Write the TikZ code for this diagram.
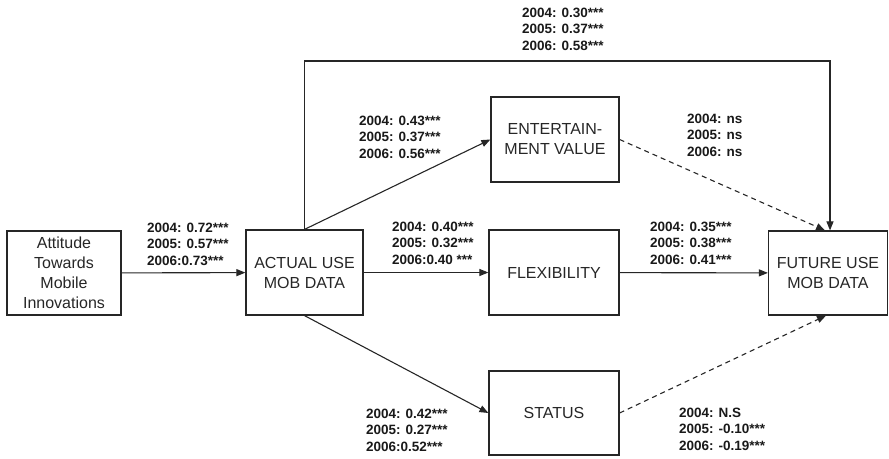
\documentclass[tikz,border=0pt]{standalone}
\usepackage{fontspec}
\setmainfont{Liberation Sans}
\usetikzlibrary{arrows.meta}
\begin{document}
\begin{tikzpicture}[x=1pt,y=-1pt,
  box/.style={draw=black!85, line width=1.2pt, inner sep=0pt, align=center,
    text=black!85, font=\fontsize{16}{20}\selectfont},
  lbl/.style={anchor=west, align=left, inner sep=0pt, text=black!90,
    font=\fontsize{13.5}{16.5}\selectfont\bfseries},
  link/.style={draw=black!85, line width=1.1pt,
    -{Triangle[length=9pt,width=7pt]}},
  weak/.style={link, dash pattern=on 5pt off 4pt}]
\useasboundingbox (0,0) rectangle (889,458);

% constructs
\node[box, minimum width=114pt, minimum height=84pt] (att) at (64,273)
  {Attitude\\Towards\\Mobile\\Innovations};
\node[box, minimum width=117pt, minimum height=85pt] (act) at (304.5,272.5)
  {ACTUAL USE\\MOB DATA};
\node[box, minimum width=128pt, minimum height=85pt] (ent) at (555,139.5)
  {ENTERTAIN-\\MENT VALUE};
\node[box, minimum width=130pt, minimum height=85pt] (flex) at (554,272.5)
  {FLEXIBILITY};
\node[box, minimum width=130pt, minimum height=84pt] (stat) at (554,413)
  {STATUS};
\node[box, minimum width=119pt, minimum height=84pt] (fut) at (828,273)
  {FUTURE USE\\MOB DATA};

% paths
\coordinate (loopL) at (304.5,61);
\coordinate (loopR) at (830,61);
\draw[link] (att) -- (act);
\draw[link] (act.north) -- (ent.west);
\draw[link] (act) -- (flex);
\draw[link] (act.south) -- (stat.west);
\draw[link] (flex) -- (fut);
\draw[weak] (ent.east) -- ([xshift=-3pt]fut.north);
\draw[weak] (stat.east) -- ([xshift=-2pt]fut.south);
\draw[link] (act.north) -- (loopL) -- (loopR) -- (loopR |- fut.north);

% path coefficients
\node[lbl] (c1) at (147,244) {2004: 0.72***\\2005: 0.57***\\2006:0.73***};
\node[lbl] (c2) at (359,137) {2004: 0.43***\\2005: 0.37***\\2006: 0.56***};
\node[lbl] (c3) at (392,243) {2004: 0.40***\\2005: 0.32***\\2006:0.40 ***};
\node[lbl] (c4) at (366,430) {2004: 0.42***\\2005: 0.27***\\2006:0.52***};
\node[lbl] (c5) at (522,29) {2004: 0.30***\\2005: 0.37***\\2006: 0.58***};
\node[lbl] (c6) at (687,135) {2004: ns\\2005: ns\\2006: ns};
\node[lbl] (c7) at (650,243) {2004: 0.35***\\2005: 0.38***\\2006: 0.41***};
\node[lbl] (c8) at (679,429) {2004: N.S\\2005: -0.10***\\2006: -0.19***};
\end{tikzpicture}
\end{document}
